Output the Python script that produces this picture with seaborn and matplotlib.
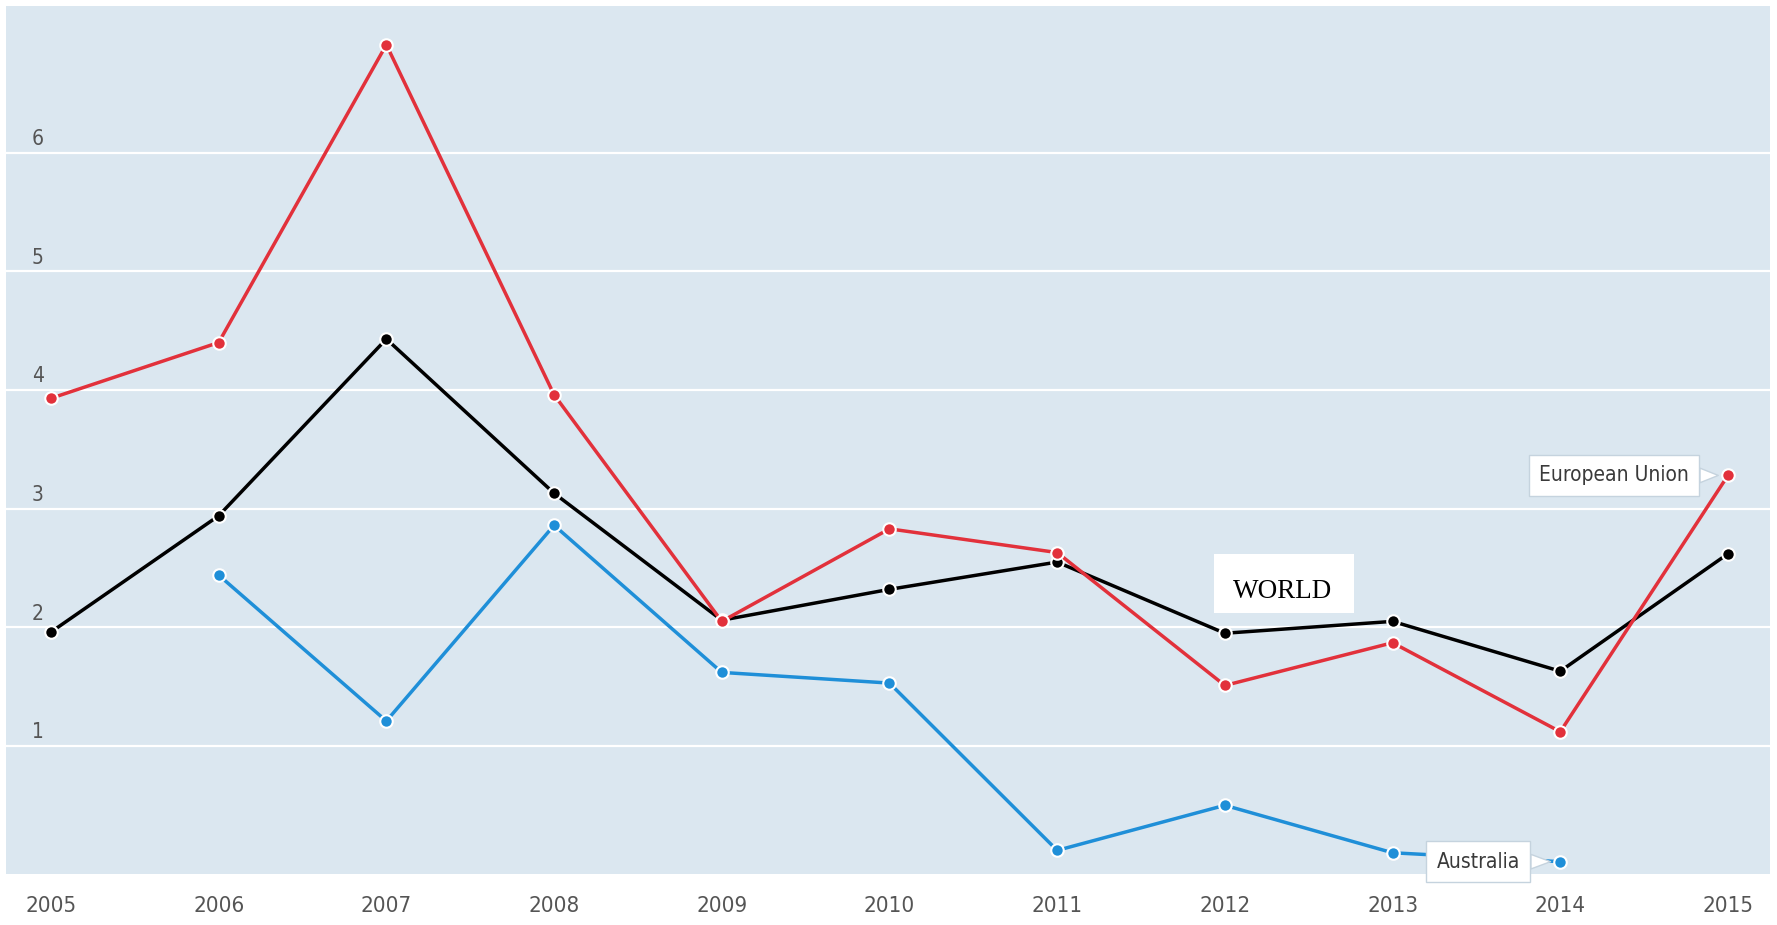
import numpy as np
import pandas as pd
import seaborn as sns
import matplotlib.pyplot as plt
from matplotlib.patches import Rectangle

#--------------
years = list(range(2005, 2016))
world = [1.96, 2.94, 4.43, 3.13, 2.06, 2.32, 2.55, 1.95, 2.05, 1.63, 2.62]
eu = [3.93, 4.40, 6.91, 3.96, 2.05, 2.83, 2.63, 1.51, 1.87, 1.12, 3.28]
australia = [np.nan, 2.44, 1.21, 2.86, 1.62, 1.53, 0.12, 0.50, 0.10, 0.025, np.nan]
ytick_vals = [1, 2, 3, 4, 5, 6]

colors = {"World": "#000000", "Australia": "#1f8fd8", "European Union": "#e2313b"}

df = pd.concat([
    pd.DataFrame({"year": years, "value": world, "series": "World"}),
    pd.DataFrame({"year": years, "value": australia, "series": "Australia"}),
    pd.DataFrame({"year": years, "value": eu, "series": "European Union"}),
]).dropna()

#--------------
sns.set_style("white")
plt.rcParams['font.family'] = ['DejaVu Sans']
plt.rcParams['font.stretch'] = 'condensed'

fig = plt.figure(figsize=(17.77, 9.25), dpi=100)
ax = fig.add_axes([0.0032, 0.055, 0.9928, 0.939])
ax.set_facecolor("#dbe7f0")

sns.lineplot(data=df, x="year", y="value", hue="series",
             hue_order=["World", "Australia", "European Union"],
             palette=colors, marker="o", markersize=9,
             markeredgecolor="white", markeredgewidth=1.5,
             linewidth=2.5, legend=False, ax=ax, zorder=3)

ax.set_xlim(2004.73, 2015.25)
ax.set_ylim(-0.08, 7.24)
for s in ax.spines.values():
    s.set_visible(False)

# gridlines
ax.set_yticks(ytick_vals)
ax.set_yticklabels([])
ax.yaxis.grid(True, color="white", linewidth=1.6)
ax.tick_params(axis='y', length=0)
for v in ytick_vals:
    ax.text(0.0148, v + 0.03, str(v), transform=ax.get_yaxis_transform(),
            ha='left', va='bottom', fontsize=15, color="#555555",
            fontstretch='condensed')

ax.set_xticks(years)
ax.set_xticklabels([str(y) for y in years], fontsize=16, color="#555555",
                   fontstretch='condensed')
ax.tick_params(axis='x', direction='in', length=7, width=2.2, color='white', pad=15.5)
ax.set_xlabel("")
ax.set_ylabel("")

# labels
edge = "#c5d3de"
ax.annotate("European Union", xy=(2015, eu[-1]), xytext=(-28, 0),
            textcoords="offset points", ha="right", va="center",
            fontsize=15, color="#3a3a3a", fontstretch='condensed',
            bbox=dict(boxstyle="square,pad=0.5", fc="white", ec=edge, lw=1),
            arrowprops=dict(arrowstyle="wedge,tail_width=0.7,shrink_factor=0.5",
                            fc="white", ec=edge, lw=1, shrinkA=0, shrinkB=7),
            zorder=5)
ax.annotate("Australia", xy=(2014, australia[-2]), xytext=(-29, 0),
            textcoords="offset points", ha="right", va="center",
            fontsize=15, color="#3a3a3a", fontstretch='condensed',
            bbox=dict(boxstyle="square,pad=0.5", fc="white", ec=edge, lw=1),
            arrowprops=dict(arrowstyle="wedge,tail_width=0.7,shrink_factor=0.5",
                            fc="white", ec=edge, lw=1, shrinkA=0, shrinkB=7),
            annotation_clip=False, zorder=5)

fig.patches.append(Rectangle((1214 / 1777, 1 - 613 / 925), 140 / 1777, 59 / 925,
                             transform=fig.transFigure, fc="white", ec="none", zorder=4))
fig.text(1233 / 1777, 1 - 598 / 925, "WORLD", family="Liberation Serif",
         fontsize=19.5, color="black", va="baseline", ha="left", zorder=6)

fig.savefig("out.png", dpi=100)
